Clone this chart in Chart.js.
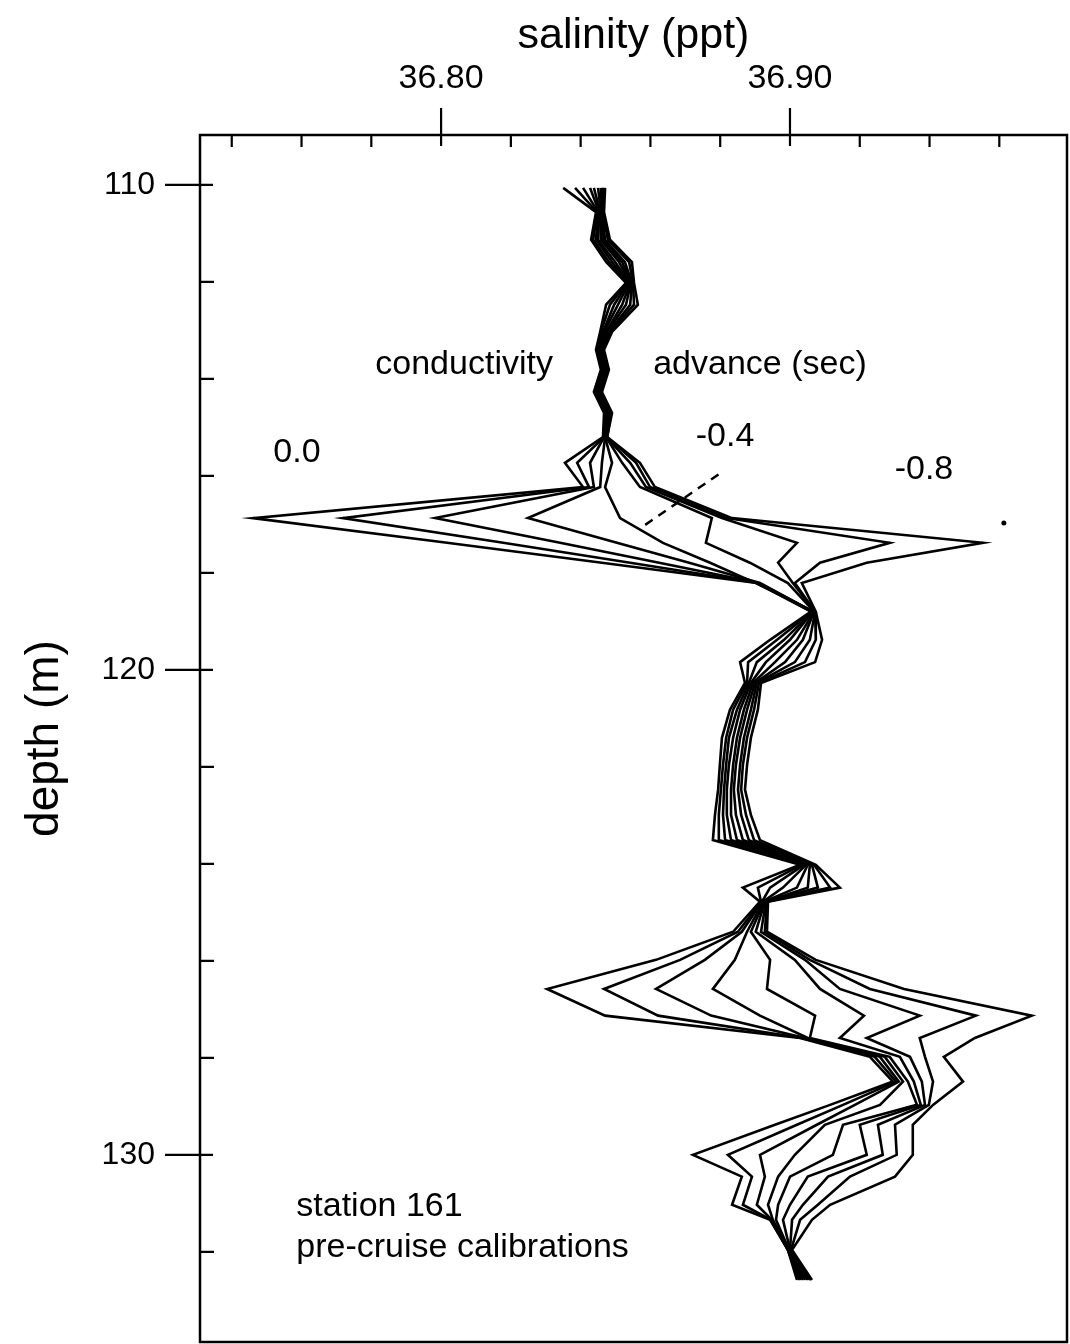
<!DOCTYPE html>
<html>
<head>
<meta charset="utf-8">
<title>salinity profiles, station 161</title>
<script src="https://cdn.jsdelivr.net/npm/chart.js@4.4.1/dist/chart.umd.min.js"></script>
<style>
  html, body { margin: 0; padding: 0; background: #fff; overflow: hidden; }
  #wrap { position: relative; width: 1070px; height: 1344px; }
</style>
</head>
<body>
<div id="wrap"><canvas id="salGraph"></canvas></div>
<script>
// depth of each sample (m)
const depths = [110.06, 110.56, 111.13, 111.59, 112.02, 112.47, 113.03, 113.40, 113.81, 114.27,
    114.70, 115.20, 115.73, 116.23, 116.87, 117.38, 117.79, 118.21, 118.80, 119.38,
    119.84, 120.27, 120.82, 121.40, 121.96, 122.47, 122.99, 123.51, 124.02, 124.49,
    124.78, 125.40, 125.98, 126.58, 127.13, 127.59, 127.98, 128.49, 128.97, 129.38,
    130.00, 130.45, 131.03, 131.34, 131.96, 132.58];

// salinity (ppt) for each conductivity advance, same depths
const adv00 = [36.8350, 36.8444, 36.8430, 36.8473, 36.8530, 36.8473, 36.8456, 36.8444, 36.8458, 36.8438,
    36.8467, 36.8464, 36.8355, 36.8407, 36.7461, 36.8017, 36.8461, 36.8905, 36.9060, 36.8943,
    36.8857, 36.8871, 36.8828, 36.8805, 36.8799, 36.8794, 36.8785, 36.8779, 36.9029, 36.8865,
    36.8914, 36.8837, 36.8616, 36.8304, 36.8470, 36.9029, 36.9229, 36.9295, 36.9115, 36.8957,
    36.8722, 36.8862, 36.8834, 36.8943, 36.8994, 36.9020];
const adv01 = [36.8384, 36.8447, 36.8436, 36.8481, 36.8533, 36.8484, 36.8458, 36.8447, 36.8461, 36.8441,
    36.8470, 36.8467, 36.8390, 36.8424, 36.7719, 36.8178, 36.8542, 36.8908, 36.9063, 36.8963,
    36.8880, 36.8877, 36.8837, 36.8817, 36.8808, 36.8802, 36.8796, 36.8796, 36.9034, 36.8908,
    36.8917, 36.8851, 36.8685, 36.8467, 36.8622, 36.9034, 36.9243, 36.9304, 36.9152, 36.9020,
    36.8822, 36.8891, 36.8865, 36.8945, 36.8994, 36.9026];
const adv02 = [36.8407, 36.8450, 36.8444, 36.8490, 36.8536, 36.8496, 36.8464, 36.8450, 36.8464, 36.8444,
    36.8473, 36.8467, 36.8427, 36.8438, 36.7983, 36.8341, 36.8625, 36.8911, 36.9066, 36.8983,
    36.8905, 36.8882, 36.8848, 36.8825, 36.8817, 36.8811, 36.8808, 36.8814, 36.9040, 36.8943,
    36.8920, 36.8862, 36.8756, 36.8616, 36.8774, 36.9043, 36.9258, 36.9312, 36.9186, 36.9077,
    36.8914, 36.8928, 36.8905, 36.8948, 36.8994, 36.9031];
const adv03 = [36.8427, 36.8453, 36.8450, 36.8499, 36.8539, 36.8507, 36.8467, 36.8453, 36.8467, 36.8447,
    36.8476, 36.8470, 36.8461, 36.8456, 36.8249, 36.8504, 36.8711, 36.8914, 36.9066, 36.9000,
    36.8931, 36.8888, 36.8857, 36.8837, 36.8825, 36.8819, 36.8819, 36.8831, 36.9046, 36.8980,
    36.8923, 36.8877, 36.8842, 36.8779, 36.8914, 36.9051, 36.9272, 36.9324, 36.9258, 36.9100,
    36.9014, 36.8966, 36.8937, 36.8951, 36.8997, 36.9037];
const adv04 = [36.8438, 36.8456, 36.8458, 36.8510, 36.8542, 36.8519, 36.8473, 36.8456, 36.8470, 36.8450,
    36.8479, 36.8470, 36.8490, 36.8470, 36.8513, 36.8636, 36.8771, 36.8902, 36.9069, 36.9020,
    36.8957, 36.8894, 36.8868, 36.8848, 36.8837, 36.8831, 36.8831, 36.8848, 36.9051, 36.9020,
    36.8926, 36.8888, 36.8943, 36.8934, 36.9072, 36.9057, 36.9286, 36.9338, 36.9364, 36.9152,
    36.9123, 36.9000, 36.8966, 36.8960, 36.8997, 36.9043];
const adv05 = [36.8450, 36.8458, 36.8464, 36.8519, 36.8544, 36.8530, 36.8476, 36.8458, 36.8473, 36.8453,
    36.8481, 36.8473, 36.8519, 36.8570, 36.8776, 36.8759, 36.8885, 36.8994, 36.9069, 36.9037,
    36.8986, 36.8900, 36.8877, 36.8857, 36.8845, 36.8839, 36.8845, 36.8865, 36.9057, 36.9051,
    36.8928, 36.8902, 36.9014, 36.9086, 36.9212, 36.9143, 36.9315, 36.9355, 36.9375, 36.9200,
    36.9220, 36.9051, 36.9000, 36.8980, 36.9000, 36.9049];
const adv06 = [36.8458, 36.8461, 36.8470, 36.8527, 36.8547, 36.8542, 36.8481, 36.8461, 36.8476, 36.8456,
    36.8484, 36.8473, 36.8542, 36.8587, 36.8805, 36.9020, 36.8966, 36.9008, 36.9072, 36.9057,
    36.9014, 36.8905, 36.8888, 36.8868, 36.8857, 36.8851, 36.8860, 36.8882, 36.9063, 36.9080,
    36.8931, 36.8917, 36.9043, 36.9143, 36.9372, 36.9220, 36.9344, 36.9378, 36.9387, 36.9252,
    36.9266, 36.9109, 36.9037, 36.9006, 36.9000, 36.9054];
const adv07 = [36.8464, 36.8464, 36.8478, 36.8539, 36.8550, 36.8553, 36.8484, 36.8464, 36.8479, 36.8458,
    36.8487, 36.8476, 36.8559, 36.8599, 36.8819, 36.9286, 36.9086, 36.9014, 36.9072, 36.9074,
    36.9043, 36.8911, 36.8897, 36.8877, 36.8865, 36.8860, 36.8874, 36.8897, 36.9069, 36.9115,
    36.8934, 36.8928, 36.9057, 36.9229, 36.9533, 36.9372, 36.9387, 36.9410, 36.9398, 36.9301,
    36.9306, 36.9172, 36.9080, 36.9029, 36.9003, 36.9060];
const adv08 = [36.8470, 36.8467, 36.8484, 36.8547, 36.8553, 36.8564, 36.8490, 36.8467, 36.8481, 36.8461,
    36.8490, 36.8476, 36.8570, 36.8613, 36.8834, 36.9553, 36.9220, 36.9034, 36.9074, 36.9092,
    36.9072, 36.8917, 36.8908, 36.8888, 36.8877, 36.8871, 36.8888, 36.8914, 36.9074, 36.9143,
    36.8937, 36.8934, 36.9074, 36.9327, 36.9693, 36.9530, 36.9441, 36.9496, 36.9410, 36.9352,
    36.9352, 36.9301, 36.9115, 36.9063, 36.9006, 36.9063];

const advLabels = ['0.0', '-0.1', '-0.2', '-0.3', '-0.4', '-0.5', '-0.6', '-0.7', '-0.8'];
const advSeries = [adv00, adv01, adv02, adv03, adv04, adv05, adv06, adv07, adv08];

// axis ticks
const xMajor = [36.80, 36.90];
const xMinor = [36.74, 36.76, 36.78, 36.82, 36.84, 36.86, 36.88, 36.92, 36.94, 36.96];
const yMajor = [110, 120, 130];
const yMinor = [112, 114, 116, 118, 122, 124, 126, 128, 132];

// dashed pointer to the -0.4 curve, and the stray dot
const dashSal = [36.8585, 36.8805];
const dashDepth = [117.01, 115.92];
const dotSal = [36.9613];
const dotDepth = [116.97];

// text written on the plot: [text, salinity, depth, align]
const notes = [
    ['conductivity', 36.8066, 113.71, 'center'],
    ['advance (sec)', 36.8914, 113.71, 'center'],
    ['0.0', 36.7587, 115.51, 'center'],
    ['-0.4', 36.8814, 115.20, 'center'],
    ['-0.8', 36.9384, 115.88, 'center'],
    ['station 161', 36.7585, 131.07, 'left'],
    ['pre-cruise calibrations', 36.7585, 131.92, 'left']
];

const FONT = '"Liberation Sans", Arial, Helvetica, sans-serif';

let datasets = [];
for (let i = 0; i < advSeries.length; i++) {
    datasets.push({
        label: advLabels[i],
        data: advSeries[i].map((s, k) => ({x: s, y: depths[k]})),
        showLine: true,
        borderColor: '#000',
        borderWidth: 2.6,
        pointRadius: 0,
        tension: 0,
        fill: false
    });
}
datasets.push({
    label: 'pointer',
    data: dashSal.map((s, k) => ({x: s, y: dashDepth[k]})),
    showLine: true,
    borderColor: '#000',
    borderWidth: 2.5,
    borderDash: [9, 7],
    pointRadius: 0
});
datasets.push({
    label: 'dot',
    data: dotSal.map((s, k) => ({x: s, y: dotDepth[k]})),
    showLine: false,
    pointRadius: 2.5,
    pointBackgroundColor: '#000',
    pointBorderWidth: 0
});

/**
 * frame, inward/outward tick marks and the notes
 */
const framePlugin = {
    id: 'frame',
    afterDatasetsDraw(chart) {
        const ctx = chart.ctx;
        const a = chart.chartArea;
        const xs = chart.scales.x;
        const ys = chart.scales.y;
        ctx.save();
        ctx.strokeStyle = '#000';
        ctx.lineWidth = 2.5;
        ctx.strokeRect(a.left, a.top, a.right - a.left, a.bottom - a.top);

        ctx.lineWidth = 2.2;
        ctx.beginPath();
        for (let v of xMajor) {
            const px = xs.getPixelForValue(v);
            ctx.moveTo(px, a.top - 27);
            ctx.lineTo(px, a.top + 11);
        }
        for (let v of xMinor) {
            const px = xs.getPixelForValue(v);
            ctx.moveTo(px, a.top);
            ctx.lineTo(px, a.top + 12);
        }
        for (let v of yMajor) {
            const py = ys.getPixelForValue(v);
            ctx.moveTo(a.left - 35, py);
            ctx.lineTo(a.left + 13, py);
        }
        for (let v of yMinor) {
            const py = ys.getPixelForValue(v);
            ctx.moveTo(a.left, py);
            ctx.lineTo(a.left + 14, py);
        }
        ctx.stroke();

        ctx.fillStyle = '#000';
        ctx.font = '34px ' + FONT;
        ctx.textBaseline = 'middle';
        for (let n of notes) {
            ctx.textAlign = n[3];
            ctx.fillText(n[0], xs.getPixelForValue(n[1]), ys.getPixelForValue(n[2]));
        }
        ctx.restore();
    }
};

// the tick label padding should not eat into the plot area
function noEdgePadding(scale) {
    scale.paddingTop = 0;
    scale.paddingBottom = 0;
    scale.paddingLeft = 0;
    scale.paddingRight = 0;
}

const canv = document.getElementById('salGraph').getContext('2d');
const graph = new Chart(canv, {
    type: 'scatter',
    data: { datasets: datasets },
    options: {
        responsive: true,
        maintainAspectRatio: false,
        animation: false,
        devicePixelRatio: 1,
        layout: { autoPadding: false, padding: { left: 0, top: 0, right: 3, bottom: 2 } },
        plugins: {
            legend: { display: false },
            tooltip: { enabled: false }
        },
        scales: {
            x: {
                type: 'linear',
                position: 'top',
                min: 36.7309,
                max: 36.9794,
                grid: { display: false, drawTicks: false },
                border: { display: false },
                afterBuildTicks: (scale) => {
                    scale.ticks = xMajor.map(v => ({value: v}));
                },
                afterFit: (scale) => {
                    scale.height = 135;
                    noEdgePadding(scale);
                },
                ticks: {
                    color: '#000',
                    font: { family: FONT, size: 34 },
                    padding: 36,
                    maxRotation: 0,
                    autoSkip: false,
                    callback: (value) => value.toFixed(2)
                },
                title: {
                    display: true,
                    text: 'salinity (ppt)',
                    color: '#000',
                    font: { family: FONT, size: 43 },
                    padding: { top: 10, bottom: 0 }
                }
            },
            y: {
                type: 'linear',
                reverse: true,
                min: 108.97,
                max: 133.86,
                grid: { display: false, drawTicks: false },
                border: { display: false },
                afterBuildTicks: (scale) => {
                    scale.ticks = yMajor.map(v => ({value: v}));
                },
                afterFit: (scale) => {
                    scale.width = 200;
                    noEdgePadding(scale);
                },
                ticks: {
                    color: '#000',
                    font: { family: FONT, size: 32 },
                    padding: 45,
                    autoSkip: false
                },
                title: {
                    display: true,
                    text: 'depth (m)',
                    color: '#000',
                    font: { family: FONT, size: 46 },
                    padding: { top: 18, bottom: 0 }
                }
            }
        }
    },
    plugins: [framePlugin]
});
</script>
</body>
</html>
